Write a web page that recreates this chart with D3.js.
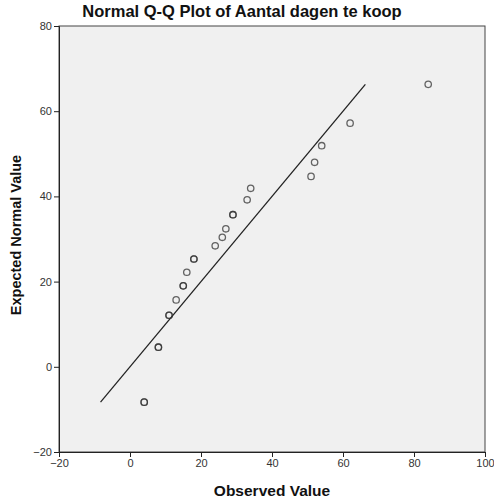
<!DOCTYPE html>
<html>
<head>
<meta charset="utf-8">
<script src="https://cdn.jsdelivr.net/npm/d3@7"></script>
<style>
  body { margin: 0; background: #fff; }
  svg { font-family: "Liberation Sans", Arial, sans-serif; }
</style>
</head>
<body>
<div id="qq-plot"></div>
<script>
// observed values and their expected normal values (ties listed twice)
const observed = [4, 4, 8, 8, 11, 11, 13, 15, 15, 16, 18, 18, 24, 26, 27, 29, 29, 33, 34, 51, 52, 54, 62, 84];
const expected = [-8.3, -8.3, 4.6, 4.6, 12.1, 12.1, 15.7, 19.0, 19.0, 22.2, 25.3, 25.3, 28.4, 30.4, 32.4, 35.7, 35.7, 39.2, 41.9, 44.7, 48.0, 51.9, 57.2, 66.3];
const refLine = [-8.3, 66.3];
const xTicks = [-20, 0, 20, 40, 60, 80, 100];
const yTicks = [-20, 0, 20, 40, 60, 80];

displayQQPlot();

function displayQQPlot() {
  const width = 494;
  const height = 498;
  const margin = { top: 26, right: 9, bottom: 46, left: 59 };
  const svg = d3.select('#qq-plot').append('svg')
      .attr('width', width)
      .attr('height', height);

  const x = d3.scaleLinear().domain([-20, 100]).range([margin.left, width - margin.right]);
  const y = d3.scaleLinear().domain([-20, 80]).range([height - margin.bottom, margin.top]);

  // plot background
  svg.append('rect')
      .attr('x', x(-20))
      .attr('y', y(80))
      .attr('width', x(100) - x(-20))
      .attr('height', y(-20) - y(80))
      .attr('fill', '#f0f0f0')
      .attr('stroke', '#444')
      .attr('stroke-width', 1);

  // axes
  const xAxis = svg.append('g')
      .attr('transform', `translate(0,${y(-20)})`)
      .call(d3.axisBottom(x).tickValues(xTicks).tickSize(5).tickPadding(2));
  const yAxis = svg.append('g')
      .attr('transform', `translate(${x(-20)},0)`)
      .call(d3.axisLeft(y).tickValues(yTicks).tickSize(5).tickPadding(2));
  [xAxis, yAxis].forEach(a => {
    a.select('.domain').attr('stroke', '#222');
    a.selectAll('.tick line').attr('stroke', '#222');
    a.selectAll('.tick text')
        .attr('fill', '#333')
        .style('font-size', '11px')
        .style('font-family', '"Liberation Sans", Arial, sans-serif');
  });

  // reference line
  svg.append('line')
      .attr('x1', x(refLine[0]))
      .attr('y1', y(refLine[0]))
      .attr('x2', x(refLine[1]))
      .attr('y2', y(refLine[1]))
      .attr('stroke', '#222')
      .attr('stroke-width', 1.3);

  // points
  svg.append('g').selectAll('circle')
      .data(observed)
      .join('circle')
      .attr('cx', d => x(d))
      .attr('cy', (d, i) => y(expected[i]))
      .attr('r', 3.2)
      .attr('fill', 'none')
      .attr('stroke', '#333')
      .attr('stroke-opacity', 0.75)
      .attr('stroke-width', 1.3);

  // title
  svg.append('text')
      .text('Normal Q-Q Plot of Aantal dagen te koop')
      .attr('x', 242)
      .attr('y', 17)
      .style('text-anchor', 'middle')
      .style('font-size', '16.5px')
      .style('font-weight', 'bold')
      .attr('fill', '#111');

  // axis titles
  svg.append('text')
      .text('Observed Value')
      .attr('x', 272)
      .attr('y', 496)
      .style('text-anchor', 'middle')
      .style('font-size', '15.5px')
      .style('font-weight', 'bold')
      .attr('fill', '#111');
  svg.append('text')
      .text('Expected Normal Value')
      .attr('transform', `translate(21,235) rotate(-90)`)
      .style('text-anchor', 'middle')
      .style('font-size', '14.5px')
      .style('font-weight', 'bold')
      .attr('fill', '#111');
}
</script>
</body>
</html>
